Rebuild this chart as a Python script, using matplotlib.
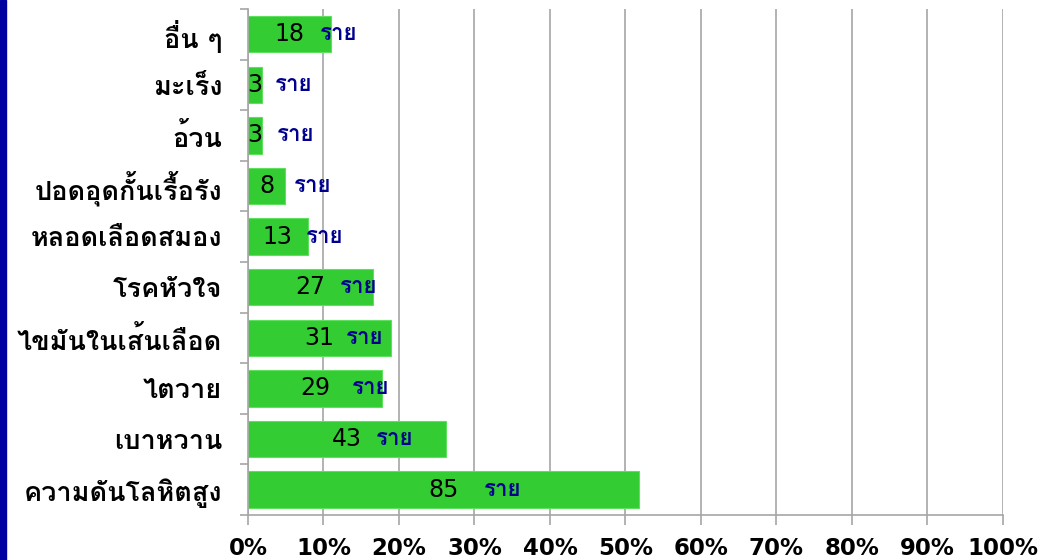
import matplotlib
matplotlib.use("Agg")
import matplotlib.pyplot as plt
import numpy as np

# จำนวนผู้ป่วยแยกตามโรค (เรียงจากล่างขึ้นบน)
categories = ["ความดันโลหิตสูง", "เบาหวาน", "ไตวาย", "ไขมันในเส้นเลือด", "โรคหัวใจ",
              "หลอดเลือดสมอง", "ปอดอุดกั้นเรื้อรัง", "อ้วน", "มะเร็ง", "อื่น ๆ"]
counts = [85, 43, 29, 31, 27, 13, 8, 3, 3, 18]
percents = [51.8, 26.2, 17.7, 18.9, 16.5, 7.9, 4.9, 1.8, 1.8, 11.0]
xticks = [0, 10, 20, 30, 40, 50, 60, 70, 80, 90, 100]
unit = "ราย"
# ระยะห่างของคำว่า "ราย" จากกลางแท่ง (พิกเซล)
unit_offset = [40, 29, 37, 27, 30, 28, 27, 22, 20, 30]

thai = ["Loma", "DejaVu Sans"]
green = "#33cc33"
grid_c = "#a6a6a6"

fig = plt.figure(figsize=(10.56, 5.6), dpi=100)
ax = fig.add_axes([0.2348, 0.0804, 0.715, 0.9036])

y = np.arange(len(categories))
ax.barh(y, percents, height=0.72, color=green, edgecolor="#5ee05e", linewidth=0.8, zorder=2)

for yi, p, c, off in zip(y, percents, counts, unit_offset):
    ax.text(p / 2, yi, str(c), ha="center", va="center", fontsize=17,
            family="DejaVu Sans", color="black", zorder=3)
    ax.annotate(unit, xy=(p / 2, yi), xytext=(off, 0),
                textcoords="offset pixels", ha="left", va="center",
                fontsize=16, fontweight="bold", family=thai, color="#000090", zorder=3)

ax.set_xlim(0, 100)
ax.set_ylim(-0.5, len(categories) - 0.5)
ax.set_xticks(xticks)
ax.set_xticklabels([f"{t}%" for t in xticks], fontsize=16.5, fontweight="bold", family="DejaVu Sans")
ax.set_yticks(y)
ax.set_yticklabels(categories, fontsize=19.5, fontweight="bold", family=thai)
ax.set_yticks(np.arange(len(categories) + 1) - 0.5, minor=True)
ax.tick_params(axis="y", which="major", length=0, pad=18.5)
ax.tick_params(axis="y", which="minor", length=6, color=grid_c, width=1.2)
ax.tick_params(axis="x", length=7, color=grid_c, width=1.2, pad=9)

ax.grid(axis="x", color=grid_c, linewidth=1.2, zorder=0)
ax.set_axisbelow(True)
for s in ["top", "right"]:
    ax.spines[s].set_visible(False)
for s in ["left", "bottom"]:
    ax.spines[s].set_color(grid_c)
    ax.spines[s].set_linewidth(1.2)

# แถบสีน้ำเงินด้านซ้าย
fig.patches.append(plt.Rectangle((0, 0), 6 / 1056, 1, transform=fig.transFigure,
                                 color="#0000a0", zorder=5))

fig.savefig("out.png", dpi=100)
